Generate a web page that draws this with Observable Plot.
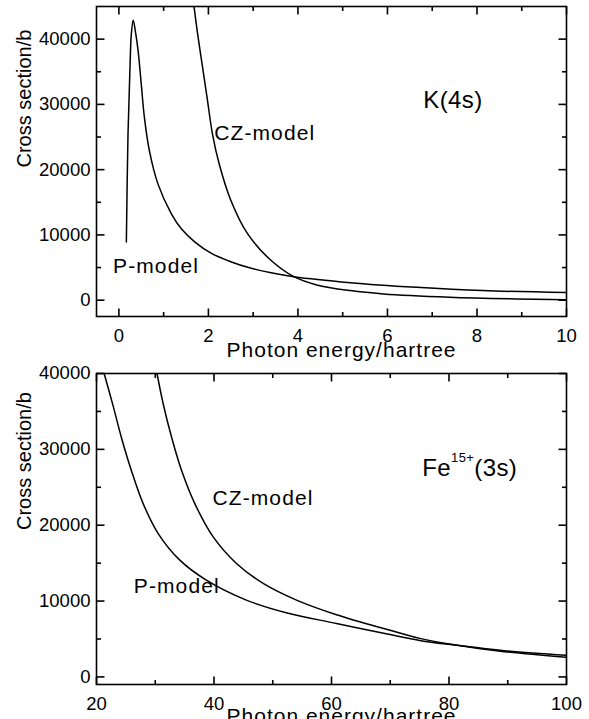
<!DOCTYPE html>
<html><head><meta charset="utf-8">
<script src="https://cdn.jsdelivr.net/npm/d3@7"></script>
<script src="https://cdn.jsdelivr.net/npm/@observablehq/plot@0.6"></script>
<style>
html,body{margin:0;padding:0;background:#fff;}
#chart svg{display:block;overflow:visible;}
</style></head><body><div id="chart"></div>
<script>
// ---------- data ----------
// Upper panel: K(4s)
const kP_energy  = [0.167,0.204,0.248,0.278,0.32,0.367,0.43,0.50,0.57,0.68,0.87,1.17,1.4,1.7,2.06,2.5,2.9,3.4,3.91,5.17,6.65,8.13,10];
const kP_sigma   = [8900,25500,35660,40760,42900,41270,38200,33100,28000,22950,17860,13280,10900,8900,7200,5900,5000,4200,3600,2690,1980,1470,1160];
const kCZ_energy = [1.68,1.76,1.87,1.98,2.09,2.24,2.5,2.87,3.39,3.91,4.42,5.17,5.91,7.39,8.87,10];
const kCZ_sigma  = [44900,40760,35660,30580,25500,20900,15310,10230,6150,3600,2340,1470,960,460,200,80];
// Lower panel: Fe15+(3s)
const feP_energy  = [21.3,22.84,24.26,25.96,27.94,30.5,34.18,38.7,45.5,52.3,60.85,69.5,75.2,80.9,89.4,100];
const feP_sigma   = [40000,35700,31500,27150,22850,18900,15400,12760,10130,8450,7050,5650,4780,4210,3460,2850];
const feCZ_energy = [30.3,31.35,32.77,34.47,36.73,39.86,43.83,48.37,54.04,60.85,69.5,75.2,80.9,89.4,100];
const feCZ_sigma  = [40000,36010,31620,27240,22850,18460,14960,12330,10130,8200,6250,5050,4250,3330,2590];

// tick values
const kXMajor = [0,2,4,6,8,10];
const kXMinor = [1,3,5,7,9];
const kYMajor = [0,10000,20000,30000,40000];
const kYMinor = [5000,15000,25000,35000];
const feXMajor = [20,40,60,80,100];
const feXMinor = [30,50,70,90];
const feYMajor = [0,10000,20000,30000,40000];
const feYMinor = [5000,15000,25000,35000];

// annotations (data units)
const kLabels  = [{text:"CZ-model", e:2.13, s:25500}, {text:"P-model", e:-0.13, s:5150}];
const kTitle   = [{text:"K(4s)", e:6.80, s:30640}];
const feLabels = [{text:"CZ-model", e:39.74, s:23510}, {text:"P-model", e:26.35, s:11970}];
const feTitle  = [{text:"Fe15+(3s)", e:75.44, s:27550}];

const xTitle = "Photon energy/hartree";
const yTitle = "Cross section/b";

const zip = (xs, ys) => xs.map((x, i) => ({e: x, s: ys[i]}));

function panel(o) {
  const W = 589 - 96 - 23;
  const H = o.height - o.marginTop - o.marginBottom;
  const [xa, xb] = o.xDomain, [ya, yb] = o.yDomain;
  const ux = (xb - xa) / W, uy = (yb - ya) / H;
  // inward tick segments as links (endpoints derived from the tick values and the domain)
  const segs = (xv, yv, len) => [
    ...xv.map(v => ({x1: v, x2: v, y1: ya, y2: ya + len * uy})),
    ...xv.map(v => ({x1: v, x2: v, y1: yb - len * uy, y2: yb})),
    ...yv.map(v => ({x1: xa, x2: xa + len * ux, y1: v, y2: v})),
    ...yv.map(v => ({x1: xb - len * ux, x2: xb, y1: v, y2: v}))
  ];
  const ticks = [...segs(o.xMajor, o.yMajor, 8), ...segs(o.xMinor, o.yMinor, 4.5)];
  return Plot.plot({
    width: 589, height: o.height,
    marginLeft: 96, marginRight: 23, marginTop: o.marginTop, marginBottom: o.marginBottom,
    style: {fontFamily: '"Liberation Sans", Arial, sans-serif', background: "#fff", color: "#000", overflow: "visible"},
    x: {domain: o.xDomain},
    y: {domain: o.yDomain},
    marks: [
      Plot.link(ticks, {x1: "x1", y1: "y1", x2: "x2", y2: "y2", stroke: "black", strokeWidth: 1.6}),
      Plot.axisX({ticks: o.xMajor, tickSize: 0, tickPadding: 12, fontSize: 18.5, label: null, tickFormat: d => String(d)}),
      Plot.axisY({ticks: o.yMajor, tickSize: 0, tickPadding: 6, fontSize: 18.5, label: null, tickFormat: d => String(d)}),
      Plot.line(o.p, {x: "e", y: "s", curve: "catmull-rom", stroke: "black", strokeWidth: 1.5, clip: true}),
      Plot.line(o.cz, {x: "e", y: "s", curve: "catmull-rom", stroke: "black", strokeWidth: 1.5, clip: true}),
      Plot.text(o.labels, {x: "e", y: "s", text: "text", textAnchor: "start", fontSize: 21, fill: "black"}),
      Plot.text(o.title, {x: "e", y: "s", text: "text", textAnchor: "start", fontSize: 24, fill: "black"}),
      Plot.text([xTitle], {text: d => d, frameAnchor: "bottom", dy: o.xLabelDy, dx: 10, fontSize: 21, fill: "black"}),
      Plot.text([yTitle], {text: d => d, frameAnchor: "left", rotate: -90, dx: -71.5, dy: o.yLabelDy, fontSize: 20, fill: "black"}),
      Plot.frame({stroke: "black", strokeWidth: 1.6})
    ]
  });
}

const topPanel = panel({
  height: 368, marginTop: 6, marginBottom: 52,
  xDomain: [-0.5, 10], yDomain: [-2500, 45000],
  xMajor: kXMajor, xMinor: kXMinor, yMajor: kYMajor, yMinor: kYMinor,
  p: zip(kP_energy, kP_sigma), cz: zip(kCZ_energy, kCZ_sigma),
  labels: kLabels, title: kTitle,
  xLabelDy: 40.5, yLabelDy: 6
});
const bottomPanel = panel({
  height: 351, marginTop: 5, marginBottom: 35,
  xDomain: [20, 100], yDomain: [-1000, 40000],
  xMajor: feXMajor, xMinor: feXMinor, yMajor: feYMajor, yMinor: feYMinor,
  p: zip(feP_energy, feP_sigma), cz: zip(feCZ_energy, feCZ_sigma),
  labels: feLabels, title: feTitle,
  xLabelDy: 38, yLabelDy: 1
});

const chart = document.getElementById("chart");
chart.appendChild(topPanel);
chart.appendChild(bottomPanel);

const withText = (svg, fn) => d3.select(svg).selectAll("text").filter(fn);
for (const svg of [topPanel, bottomPanel]) {
  withText(svg, function () { return this.textContent === "CZ-model" || this.textContent === "P-model"; })
    .style("letter-spacing", "1.1px");
  withText(svg, function () { return this.textContent === xTitle; }).style("letter-spacing", "1px");
  withText(svg, function () { return this.textContent === "K(4s)"; }).style("letter-spacing", "0.4px");
}
withText(bottomPanel, function () { return this.textContent === "Fe15+(3s)"; }).each(function () {
  const t = d3.select(this);
  t.text(null).style("letter-spacing", "0.4px");
  t.append("tspan").text("Fe");
  t.append("tspan").attr("dy", -14).attr("font-size", 13).text("15+");
  t.append("tspan").attr("dy", 14).text("(3s)");
});
</script>
</body></html>
